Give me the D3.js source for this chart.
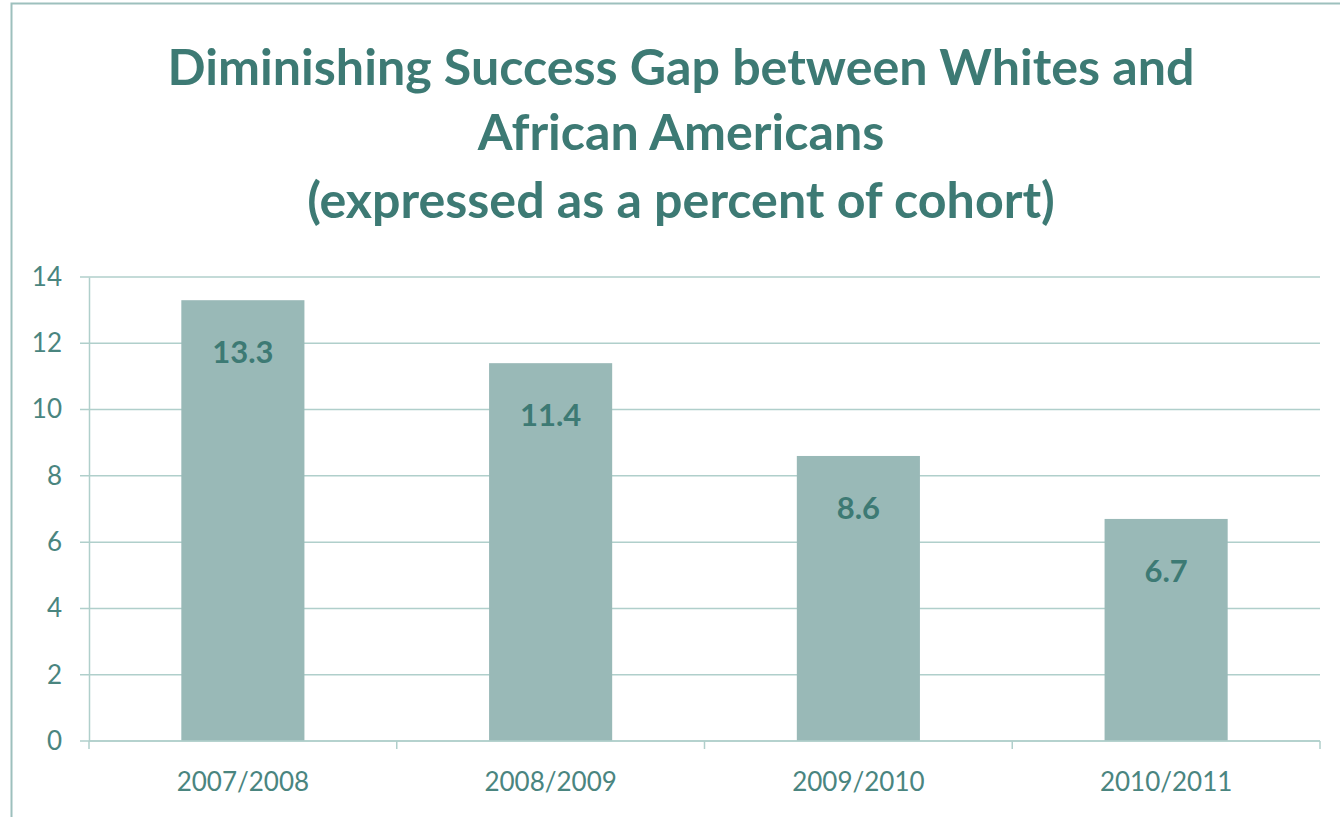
<!DOCTYPE html>
<html>
<head>
<meta charset="utf-8">
<script src="https://cdn.jsdelivr.net/npm/d3@7"></script>
<style>
  body { margin: 0; background: #fff; }
  svg text { font-family: Lato, "Open Sans", sans-serif; }
</style>
</head>
<body>
<div class="chart"></div>
<script>
// data
var years = ["2007/2008", "2008/2009", "2009/2010", "2010/2011"];
var gap = [13.3, 11.4, 8.6, 6.7];
var yTicks = [0, 2, 4, 6, 8, 10, 12, 14];
var titleLines = ["Diminishing Success Gap between Whites and", "African Americans", "(expressed as a percent of cohort)"];

var W = 1340, H = 817;
var margin = {top: 277, right: 20, bottom: 76, left: 89},
    width = 1320 - margin.left,
    height = 741 - margin.top;

var svg = d3.select(".chart").append("svg")
    .attr("width", W)
    .attr("height", H);

// outer frame
svg.append("rect")
    .attr("x", 11.5).attr("y", 3.5)
    .attr("width", W + 20).attr("height", H + 20)
    .attr("fill", "none")
    .attr("stroke", "#9dc0bd")
    .attr("stroke-width", 2);

// title
var titleY = [85, 150, 218];
var title = svg.selectAll(".title")
    .data(titleLines)
    .enter().append("text")
    .attr("class", "title")
    .attr("x", 681)
    .attr("y", function(d, i){ return titleY[i]; })
    .attr("text-anchor", "middle")
    .style("font-weight", "bold")
    .style("font-size", "46px")
    .style("fill", "#3d7a74")
    .text(function(d){ return d; });

// fit first line to the width seen in the picture (~1027px)
var w0 = title.node().getComputedTextLength();
var fs = 46 * 1027 / w0;
title.style("font-size", fs + "px");

var g = svg.append("g")
    .attr("transform", "translate(" + margin.left + "," + margin.top + ")");

var x = d3.scaleBand()
    .domain(years)
    .range([0, width])
    .paddingInner(0.6)
    .paddingOuter(0.3);

var y = d3.scaleLinear()
    .domain([0, 14])
    .range([height, 0]);

// gridlines
g.selectAll(".grid")
    .data(yTicks)
    .enter().append("line")
    .attr("class", "grid")
    .attr("x1", -9)
    .attr("x2", width)
    .attr("y1", function(d){ return y(d); })
    .attr("y2", function(d){ return y(d); })
    .attr("stroke", "#b0cfcb")
    .attr("stroke-width", 1.5);

// bars
g.selectAll(".bar")
    .data(gap)
    .enter().append("rect")
    .attr("class", "bar")
    .attr("x", function(d, i){ return x(years[i]); })
    .attr("width", x.bandwidth())
    .attr("y", function(d){ return y(d); })
    .attr("height", function(d){ return height - y(d); })
    .attr("fill", "#99b9b7");

// value labels
g.selectAll(".val")
    .data(gap)
    .enter().append("text")
    .attr("class", "val")
    .attr("x", function(d, i){ return x(years[i]) + x.bandwidth() / 2; })
    .attr("y", function(d){ return y(d) + 63; })
    .attr("text-anchor", "middle")
    .style("font-weight", "bold")
    .style("font-size", "31px")
    .style("fill", "#3d7a74")
    .text(function(d){ return d3.format(".1f")(d); });

// y axis
var yAxis = d3.axisLeft(y).tickValues(yTicks).tickSize(0).tickPadding(27);
var ya = g.append("g").call(yAxis);
ya.select(".domain").attr("stroke", "#b0cfcb").attr("stroke-width", 1.5);
ya.selectAll("text")
    .style("font-size", "26px")
    .style("fill", "#4a857f")
    .style("font-family", "Lato, sans-serif");

// x axis with ticks at category boundaries
var xa = g.append("g").attr("transform", "translate(0," + height + ")");
xa.append("line")
    .attr("x1", 0).attr("x2", width)
    .attr("stroke", "#b0cfcb").attr("stroke-width", 1.5);
var step = width / years.length;
xa.selectAll(".xt")
    .data(d3.range(years.length + 1))
    .enter().append("line")
    .attr("class", "xt")
    .attr("x1", function(d){ return d * step; })
    .attr("x2", function(d){ return d * step; })
    .attr("y1", 0).attr("y2", 8)
    .attr("stroke", "#b0cfcb").attr("stroke-width", 1.5);
xa.selectAll(".xl")
    .data(years)
    .enter().append("text")
    .attr("class", "xl")
    .attr("x", function(d){ return x(d) + x.bandwidth() / 2; })
    .attr("y", 50)
    .attr("text-anchor", "middle")
    .style("font-size", "26px")
    .style("fill", "#4a857f")
    .text(function(d){ return d; });
</script>
</body>
</html>
